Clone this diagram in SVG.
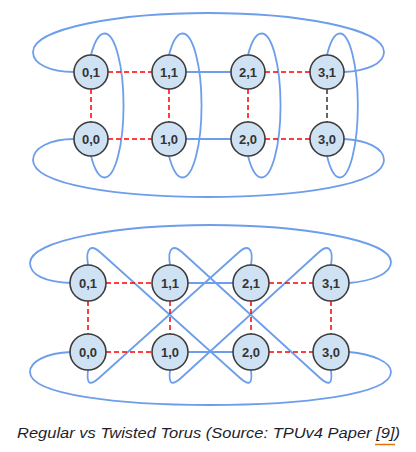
<svg xmlns="http://www.w3.org/2000/svg" width="416" height="452" viewBox="0 0 416 452">
<style>
.link{fill:none;stroke:#6d9eeb;stroke-width:1.8}
.dash{fill:none;stroke:#ff0000;stroke-width:1.5;stroke-dasharray:5,3}
.dashk{fill:none;stroke:#333;stroke-width:1.5;stroke-dasharray:5,3}
.node circle{fill:#cfe2f3;stroke:#3c3c3c;stroke-width:1.6}
.node text{font-family:"Liberation Sans",Arial,sans-serif;font-weight:bold;font-size:13px;fill:#333;text-anchor:middle}
.cap{font-family:"Liberation Sans",Arial,sans-serif;font-style:italic;font-size:15px;fill:#1f1f2e}
</style>
<rect width="416" height="452" fill="#fff"/>
<g id="connectors">
  <!-- Regular torus -->
  <path class="link" d="M74,72 C50,72 33,64 33,52 C33,28 120,13 208,13 C296,13 384,28 384,52 C384,64 366,71 344,72"/>
  <path class="link" d="M74,139 C50,139 33,148 33,160 C33,185 120,197 208,197 C296,197 384,185 384,160 C384,148 366,140 344,139"/>
  <path class="link" d="M91,55 A19,72 0 1 1 91,156"/>
  <path class="link" d="M169,55 A19,72 0 1 1 169,156"/>
  <path class="link" d="M248,55 A19,72 0 1 1 248,156"/>
  <path class="link" d="M327,55 A18,72 0 1 1 327,156"/>
  <line class="link" x1="186" y1="72" x2="231" y2="72"/>
  <line class="link" x1="186" y1="139" x2="231" y2="139"/>
  <line class="dash" x1="108" y1="72" x2="152" y2="72"/>
  <line class="dash" x1="265" y1="72" x2="310" y2="72"/>
  <line class="dash" x1="108" y1="139" x2="152" y2="139"/>
  <line class="dash" x1="265" y1="139" x2="310" y2="139"/>
  <line class="dash" x1="91" y1="89" x2="91" y2="122"/>
  <line class="dash" x1="169" y1="89" x2="169" y2="122"/>
  <line class="dash" x1="248" y1="89" x2="248" y2="122"/>
  <line class="dashk" x1="327" y1="89" x2="327" y2="122"/>
  <!-- Twisted torus -->
  <path class="link" d="M71,283 C45,282 30,275 30,263 C30,240 120,225 210,225 C300,225 391,240 391,262 C391,274 372,281 349,283"/>
  <path class="link" d="M71,352 C45,353 30,362 30,372 C30,395 120,405 210,405 C300,405 391,395 391,372 C391,362 372,354 349,352"/>
  <path class="link" d="M88,265 C85,246 92,244.5 101,253 L240,378 C248,385 253,386 251,370"/>
  <path class="link" d="M170,265 C167,246 174,244.5 183,253 L320,378 C328,385 333,386 331,370"/>
  <path class="link" d="M251,265 C254,246 247,244.5 238,253 L99,378 C91,385 86,386 88,370"/>
  <path class="link" d="M331,265 C334,246 327,244.5 318,253 L181,378 C173,385 168,386 170,370"/>
  <line class="link" x1="188" y1="283" x2="233" y2="283"/>
  <line class="link" x1="188" y1="352" x2="233" y2="352"/>
  <line class="dash" x1="106" y1="283" x2="152" y2="283"/>
  <line class="dash" x1="269" y1="283" x2="313" y2="283"/>
  <line class="dash" x1="106" y1="352" x2="152" y2="352"/>
  <line class="dash" x1="269" y1="352" x2="313" y2="352"/>
  <line class="dash" x1="88" y1="301" x2="88" y2="334"/>
  <line class="dash" x1="170" y1="301" x2="170" y2="334"/>
  <line class="dash" x1="251" y1="301" x2="251" y2="334"/>
  <line class="dash" x1="331" y1="301" x2="331" y2="334"/>
</g>
<g id="r01" class="node"><circle cx="91" cy="72" r="17"/><text x="91" y="76.5">0,1</text></g>
<g id="r11" class="node"><circle cx="169" cy="72" r="17"/><text x="169" y="76.5">1,1</text></g>
<g id="r21" class="node"><circle cx="248" cy="72" r="17"/><text x="248" y="76.5">2,1</text></g>
<g id="r31" class="node"><circle cx="327" cy="72" r="17"/><text x="327" y="76.5">3,1</text></g>
<g id="r00" class="node"><circle cx="91" cy="139" r="17"/><text x="91" y="143.5">0,0</text></g>
<g id="r10" class="node"><circle cx="169" cy="139" r="17"/><text x="169" y="143.5">1,0</text></g>
<g id="r20" class="node"><circle cx="248" cy="139" r="17"/><text x="248" y="143.5">2,0</text></g>
<g id="r30" class="node"><circle cx="327" cy="139" r="17"/><text x="327" y="143.5">3,0</text></g>
<g id="t01" class="node"><circle cx="88" cy="283" r="18"/><text x="88" y="287.5">0,1</text></g>
<g id="t11" class="node"><circle cx="170" cy="283" r="18"/><text x="170" y="287.5">1,1</text></g>
<g id="t21" class="node"><circle cx="251" cy="283" r="18"/><text x="251" y="287.5">2,1</text></g>
<g id="t31" class="node"><circle cx="331" cy="283" r="18"/><text x="331" y="287.5">3,1</text></g>
<g id="t00" class="node"><circle cx="88" cy="352" r="18"/><text x="88" y="356.5">0,0</text></g>
<g id="t10" class="node"><circle cx="170" cy="352" r="18"/><text x="170" y="356.5">1,0</text></g>
<g id="t20" class="node"><circle cx="251" cy="352" r="18"/><text x="251" y="356.5">2,0</text></g>
<g id="t30" class="node"><circle cx="331" cy="352" r="18"/><text x="331" y="356.5">3,0</text></g>
<g id="caption">
  <text class="cap" x="17" y="438" textLength="383" lengthAdjust="spacingAndGlyphs">Regular vs Twisted Torus (Source: TPUv4 Paper [9])</text>
  <line x1="375" y1="444.5" x2="395" y2="444.5" stroke="#e8710a" stroke-width="1.5"/>
</g>
</svg>
